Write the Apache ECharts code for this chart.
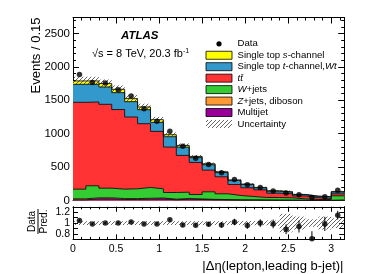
<!DOCTYPE html>
<html><head><meta charset="utf-8">
<script src="https://cdn.jsdelivr.net/npm/echarts@6/dist/echarts.min.js"></script>
<style>html,body{margin:0;padding:0;background:#fff}#c{width:382px;height:274px}</style>
</head><body><div id="c"></div>
<script>
// ---- data ----
const binWidth = 0.15;
const nBins = 21;
const multijet = [10,25,25,15,15,20,25,10,20,15,10,8,5,5,4,3,3,2,1,1,3];
const zjets    = [15,15,15,14,14,13,12,10,9,8,7,6,5,4,3,3,2,2,1,1,3];
const wjets    = [145,180,145,141,146,162,138,100,96,67,113,86,65,51,38,39,35,21,13,13,64];
const ttbar    = [1300,1255,1255,1192,1075,955,860,680,550,480,325,255,165,130,115,65,60,43,27,17,30];
const tchan    = [270,265,260,253,230,210,135,155,125,72,80,63,58,48,30,30,25,20,21,24,28];
const schan    = [50,50,50,50,45,40,40,30,25,18,15,12,10,8,6,5,4,3,2,2,5];
const dataCounts = [1885,1765,1760,1660,1565,1375,1185,1035,812,633,538,415,314,235,195,143,114,85,46,57,152];
const uncRel   = [0.035,0.035,0.035,0.035,0.035,0.035,0.035,0.035,0.035,0.035,0.035,0.035,0.035,0.04,0.04,0.05,0.17,0.12,0.07,0.12,0.09];
const ratio    = [1.05,0.985,1.0,1.0,1.02,0.985,0.985,1.06,0.967,0.96,0.98,0.967,1.02,0.955,1.0,0.985,0.887,0.936,0.71,0.985,1.146];
const ratioErr = [0.02,0.02,0.02,0.02,0.02,0.02,0.02,0.02,0.03,0.03,0.04,0.05,0.06,0.06,0.07,0.08,0.09,0.11,0.14,0.13,0.08];
const ratioLabels = ['0.8','1','1.2'];

// ---- derived ----
const FONT = 'Liberation Sans';
const comps = [multijet, zjets, wjets, ttbar, tchan, schan];
const colors = ['#990099','#ff9933','#33cc33','#ff3333','#3399cc','#ffff00'];
const cum = [];
let run = new Array(nBins).fill(0);
comps.forEach(c => { run = run.map((v,i)=>v+c[i]); cum.push(run.slice()); });
const total = cum[cum.length-1];
const bins = [...Array(nBins).keys()];

function hatchCanvas(){
  const c=document.createElement('canvas'); c.width=4; c.height=4;
  const g=c.getContext('2d'); g.strokeStyle='#222'; g.lineWidth=0.7;
  g.beginPath(); g.moveTo(0,4); g.lineTo(4,0); g.moveTo(-1,1); g.lineTo(1,-1); g.moveTo(3,5); g.lineTo(5,3); g.stroke();
  return c;
}
const hatch = {image: hatchCanvas(), repeat:'repeat'};

function stepData(arr){
  const d = bins.map(i=>[i*binWidth, arr[i]]);
  d.push([nBins*binWidth, arr[nBins-1]]);
  return d;
}

function ax(o){
  return Object.assign({type:'value', splitLine:{show:false},
    axisLine:{show:false, onZero:false},
    axisTick:{show:true, inside:true, length:6, lineStyle:{color:'#000', width:1}},
    axisLabel:{show:false}}, o);
}
const line = {show:true, onZero:false, lineStyle:{color:'#000', width:1}};
const XMAX = nBins*binWidth;

const xAxis = [
  ax({gridIndex:0, position:'bottom', min:0, max:XMAX, interval:0.5, axisLine:line}),
  ax({gridIndex:0, position:'bottom', min:0, max:XMAX, interval:0.1, axisTick:{inside:true,length:3,lineStyle:{color:'#000'}}}),
  ax({gridIndex:0, position:'top', min:0, max:XMAX, interval:0.5, axisLine:line}),
  ax({gridIndex:0, position:'top', min:0, max:XMAX, interval:0.1, axisTick:{inside:true,length:3,lineStyle:{color:'#000'}}}),
  ax({gridIndex:1, position:'bottom', min:0, max:XMAX, interval:0.5, axisLine:line, axisTick:{inside:true,length:5,lineStyle:{color:'#000'}},
      axisLabel:{show:true, showMaxLabel:false, fontSize:10.5, fontFamily:FONT, color:'#000', margin:4}}),
  ax({gridIndex:1, position:'bottom', min:0, max:XMAX, interval:0.1, axisTick:{inside:true,length:2.5,lineStyle:{color:'#000'}}}),
  ax({gridIndex:1, position:'top', min:0, max:XMAX, interval:0.5, axisLine:line, axisTick:{inside:true,length:5,lineStyle:{color:'#000'}}}),
  ax({gridIndex:1, position:'top', min:0, max:XMAX, interval:0.1, axisTick:{inside:true,length:2.5,lineStyle:{color:'#000'}}})
];
const YMAX = 2740;
const rfmt = v => { const r = Math.round(v*10)/10; const s = (r===1?'1':r.toFixed(1)); return ratioLabels.includes(s)?s:''; };
const yAxis = [
  ax({gridIndex:0, position:'left', min:0, max:YMAX, interval:500, axisLine:line,
      axisLabel:{show:true, showMaxLabel:false, fontSize:11.5, fontFamily:FONT, color:'#000', margin:3, formatter:v=>String(Math.round(v))}}),
  ax({gridIndex:0, position:'left', min:0, max:YMAX, interval:100, axisTick:{inside:true,length:3,lineStyle:{color:'#000'}}}),
  ax({gridIndex:0, position:'right', min:0, max:YMAX, interval:500, axisLine:line}),
  ax({gridIndex:0, position:'right', min:0, max:YMAX, interval:100, axisTick:{inside:true,length:3,lineStyle:{color:'#000'}}}),
  ax({gridIndex:1, position:'left', min:0.7, max:1.3, interval:0.1, axisLine:line, axisTick:{inside:true,length:5,lineStyle:{color:'#000'}},
      axisLabel:{show:true, fontSize:10.5, fontFamily:FONT, color:'#000', margin:3, formatter:rfmt, showMaxLabel:false, showMinLabel:false}}),
  ax({gridIndex:1, position:'right', min:0.7, max:1.3, interval:0.1, axisLine:line, axisTick:{inside:true,length:5,lineStyle:{color:'#000'}}})
];

const series = [];
for (let k = cum.length-1; k >= 0; k--) {
  series.push({type:'line', xAxisIndex:0, yAxisIndex:0, step:'end', symbol:'none', silent:true,
    data: stepData(cum[k]), lineStyle:{color:'#111', width:0.9},
    areaStyle:{color:colors[k], opacity:1, origin:'start'}, z:2});
}
series.push({type:'custom', xAxisIndex:0, yAxisIndex:0, z:5, silent:true,
  data: bins.map(i=>[i, total[i]*(1-uncRel[i]), total[i]*(1+uncRel[i])]),
  renderItem:(p,api)=>{
    const i=api.value(0), lo=api.value(1), hi=api.value(2);
    const a=api.coord([i*binWidth, hi]), b=api.coord([(i+1)*binWidth, lo]);
    return {type:'rect', shape:{x:a[0], y:a[1], width:b[0]-a[0], height:b[1]-a[1]}, style:{fill:hatch}};
  }});
series.push({type:'scatter', xAxisIndex:0, yAxisIndex:0, symbolSize:5.5, z:10, silent:true,
  itemStyle:{color:'#000'}, data: bins.map(i=>[(i+0.5)*binWidth, dataCounts[i]])});
series.push({type:'custom', xAxisIndex:4, yAxisIndex:4, z:5, silent:true,
  data: bins.map(i=>[i, 1-uncRel[i], 1+uncRel[i]]),
  renderItem:(p,api)=>{
    const i=api.value(0), lo=Math.max(0.7,api.value(1)), hi=Math.min(1.3,api.value(2));
    const a=api.coord([i*binWidth, hi]), b=api.coord([(i+1)*binWidth, lo]);
    return {type:'rect', shape:{x:a[0], y:a[1], width:b[0]-a[0], height:b[1]-a[1]}, style:{fill:hatch}};
  }});
series.push({type:'custom', xAxisIndex:4, yAxisIndex:4, z:9, silent:true,
  data: bins.map(i=>[(i+0.5)*binWidth, ratio[i], ratioErr[i]]),
  renderItem:(p,api)=>{
    const x=api.value(0), r=api.value(1), e=api.value(2);
    const a=api.coord([x, Math.min(1.3,r+e)]), b=api.coord([x, Math.max(0.7,r-e)]);
    return {type:'line', shape:{x1:a[0], y1:a[1], x2:b[0], y2:b[1]}, style:{stroke:'#000', lineWidth:1}};
  }});
series.push({type:'scatter', xAxisIndex:4, yAxisIndex:4, symbolSize:5.5, z:10, silent:true, clip:false,
  itemStyle:{color:'#000'}, data: bins.map(i=>[(i+0.5)*binWidth, ratio[i]])});

const legendItems = [
  {kind:'dot', text:'Data'},
  {kind:'box', color:'#ffff00', text:'Single top {i|s}-channel'},
  {kind:'box', color:'#3399cc', text:'Single top {i|t}-channel,{i|Wt}'},
  {kind:'box', color:'#ff3333', text:'{i|t\u0074\u0304}'},
  {kind:'box', color:'#33cc33', text:'{i|W}+jets'},
  {kind:'box', color:'#ff9933', text:'{i|Z}+jets, diboson'},
  {kind:'box', color:'#990099', text:'Multijet'},
  {kind:'hatch', text:'Uncertainty'}
];
const LFS = 9.6;
const rich = {i:{fontStyle:'italic', fontSize:LFS, fontFamily:FONT, fill:'#000'}};
const graphic = [];
legendItems.forEach((it,k)=>{
  const cy = 43.8 + k*11.45;
  if (it.kind==='dot') graphic.push({type:'circle', shape:{cx:219, cy, r:2.6}, style:{fill:'#000'}});
  else if (it.kind==='box') graphic.push({type:'rect', shape:{x:206, y:cy-4, width:26, height:8}, style:{fill:it.color, stroke:'#000', lineWidth:0.8}});
  else graphic.push({type:'rect', shape:{x:206, y:cy-4, width:26, height:8}, style:{fill:hatch}});
  graphic.push({type:'text', x:237.5, y:cy, style:{text:it.text, rich, fontSize:LFS, fontFamily:FONT, fill:'#000', align:'left', verticalAlign:'middle'}});
});
graphic.push({type:'text', x:121, y:35.5, style:{text:'ATLAS', fontSize:11.5, fontWeight:'bold', fontStyle:'italic', fontFamily:FONT, fill:'#000', align:'left', verticalAlign:'middle'}});
graphic.push({type:'text', x:92, y:53.5, style:{text:'\u221As = 8 TeV, 20.3 fb{sup|-1}', fontSize:11, fontFamily:FONT, fill:'#000', align:'left', verticalAlign:'middle',
  rich:{sup:{fontSize:7, fontFamily:FONT, fill:'#000', verticalAlign:'top'}}}});
graphic.push({type:'text', x:36, y:17.5, rotation:Math.PI/2, style:{text:'Events / 0.15', fontSize:13, fontFamily:FONT, fill:'#000', align:'right', verticalAlign:'middle'}});
graphic.push({type:'text', x:343.5, y:266.5, style:{text:'|\u0394\u03b7(lepton,leading b-jet)|', fontSize:13, fontFamily:FONT, fill:'#000', align:'right', verticalAlign:'middle'}});
graphic.push({type:'group', x:38, y:221.5, rotation:Math.PI/2, children:[
  {type:'text', x:0, y:-5.5, style:{text:'Data', fontSize:10, fontFamily:FONT, fill:'#000', align:'center', verticalAlign:'middle'}},
  {type:'line', shape:{x1:-12.5, y1:0, x2:12.5, y2:0}, style:{stroke:'#000', lineWidth:1}},
  {type:'text', x:0, y:6, style:{text:'Pred.', fontSize:10, fontFamily:FONT, fill:'#000', align:'center', verticalAlign:'middle'}}
]});

const chart = echarts.init(document.getElementById('c'), null, {renderer:'canvas', width:382, height:274});
chart.setOption({
  animation:false,
  backgroundColor:'#fff',
  grid:[{left:73, top:17.5, width:271.2, height:183, containLabel:false},
        {left:73, top:206.8, width:271.2, height:32.6, containLabel:false}],
  xAxis, yAxis, series, graphic
});
</script></body></html>
